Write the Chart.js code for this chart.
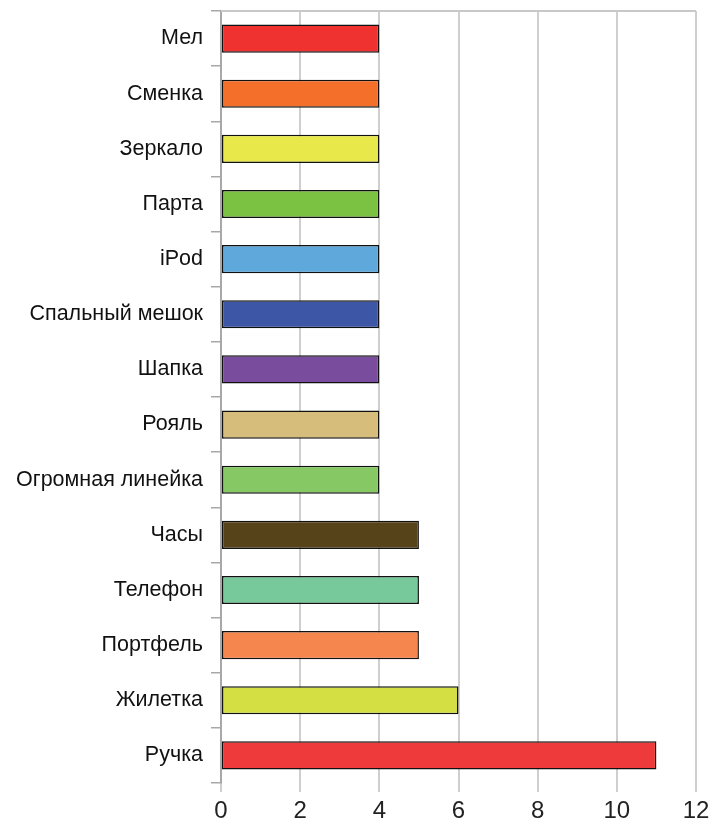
<!DOCTYPE html>
<html>
<head>
<meta charset="utf-8">
<script src="https://cdn.jsdelivr.net/npm/chart.js@4.4.1/dist/chart.umd.min.js"></script>
<style>
    html, body { margin: 0; padding: 0; background: #fff; }
    #wrap { width: 724px; height: 823px; }
</style>
</head>
<body>
<div id="wrap"><canvas id="bar-chart"></canvas></div>
<script>
    // Data
    var items = ["Мел", "Сменка", "Зеркало", "Парта", "iPod", "Спальный мешок", "Шапка",
        "Рояль", "Огромная линейка", "Часы", "Телефон", "Портфель", "Жилетка", "Ручка"];
    var counts = [4, 4, 4, 4, 4, 4, 4, 4, 4, 5, 5, 5, 6, 11];
    var barColors = ["#ef3130", "#f36f2a", "#e8e84a", "#7cc242", "#5fa8dc", "#3d56a6", "#7a4c9d",
        "#d7bd7b", "#85c864", "#56431a", "#77c89a", "#f5874e", "#d4df43", "#ee3a3a"];
    var xTicks = [0, 2, 4, 6, 8, 10, 12];

    // top frame line
    var topLine = {
        id: "topLine",
        afterDraw: function (chart) {
            var a = chart.chartArea, c = chart.ctx;
            c.save();
            c.strokeStyle = "#c8c8c8";
            c.lineWidth = 2;
            c.beginPath();
            c.moveTo(a.left, a.top);
            c.lineTo(a.right, a.top);
            c.stroke();
            c.restore();
        }
    };

    var ctx = document.getElementById("bar-chart").getContext("2d");
    var myChart = new Chart(ctx, {
        type: "bar",
        data: {
            labels: items,
            datasets: [{
                data: counts,
                backgroundColor: barColors,
                borderColor: "#111",
                borderWidth: 1.5,
                borderSkipped: false,
                categoryPercentage: 1,
                barPercentage: 0.51
            }]
        },
        plugins: [topLine],
        options: {
            indexAxis: "y",
            responsive: true,
            maintainAspectRatio: false,
            animation: false,
            layout: { padding: { top: 11, right: 28, left: 0, bottom: 0 } },
            plugins: {
                legend: { display: false },
                tooltip: { enabled: false }
            },
            scales: {
                x: {
                    min: 0,
                    max: 12,
                    afterBuildTicks: function (scale) {
                        scale.ticks = xTicks.map(function (v) { return { value: v }; });
                    },
                    afterFit: function (scale) {
                        scale.height = 40;
                        scale.paddingRight = 0;
                        scale.paddingLeft = 0;
                    },
                    border: { display: false },
                    grid: { color: "#cfcfcf", lineWidth: 2, tickLength: 9, tickColor: "#cfcfcf" },
                    ticks: {
                        color: "#222",
                        padding: 5,
                        font: { family: "Liberation Sans, Arial", size: 24 }
                    }
                },
                y: {
                    afterFit: function (scale) {
                        scale.width = 221;
                        scale.paddingTop = 0;
                        scale.paddingBottom = 0;
                    },
                    border: { display: true, color: "#a8a8a8", width: 2 },
                    grid: {
                        offset: true,
                        drawOnChartArea: false,
                        tickLength: 10,
                        color: "#a8a8a8",
                        lineWidth: 1.5
                    },
                    ticks: {
                        color: "#111",
                        padding: 8,
                        font: { family: "Liberation Sans, Arial", size: 21.5 }
                    }
                }
            }
        }
    });
</script>
</body>
</html>
